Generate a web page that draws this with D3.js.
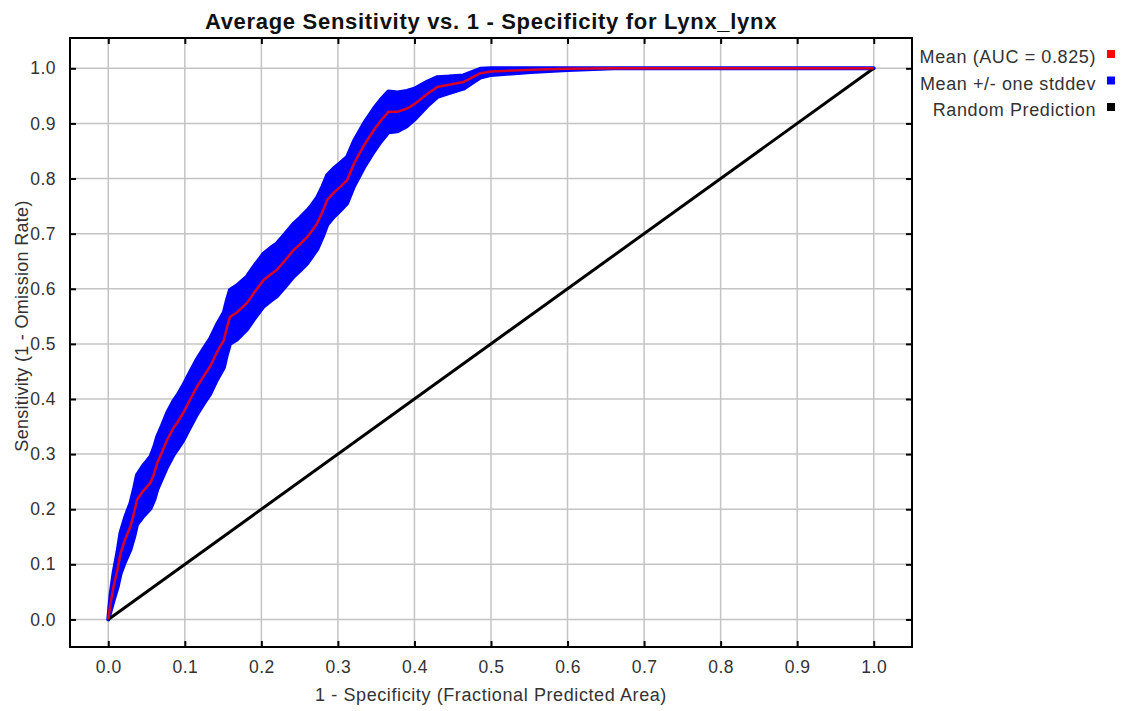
<!DOCTYPE html>
<html lang="en">
<head>
    <meta charset="UTF-8" />
    <title>Average Sensitivity vs. 1 - Specificity for Lynx_lynx</title>
    <script src="https://d3js.org/d3.v7.min.js"></script>
    <style>
        body { margin: 0; background: #fff; }
        text { font-family: "Liberation Sans", Arial, sans-serif; }
    </style>
</head>
<body>
    <svg id="chart" width="1128" height="711"></svg>
    <script>
        // Mean ROC curve (1 - specificity vs sensitivity)
        var fpr = [0, 0.003, 0.007, 0.012, 0.016, 0.022, 0.029, 0.034, 0.0375, 0.045,
                   0.055, 0.06, 0.064, 0.07, 0.077, 0.085, 0.09, 0.098, 0.107, 0.115,
                   0.124, 0.133, 0.142, 0.151, 0.155, 0.159, 0.168, 0.181, 0.19, 0.203,
                   0.212, 0.22, 0.23, 0.242, 0.25, 0.26, 0.266, 0.273, 0.28, 0.286,
                   0.295, 0.303, 0.312, 0.321, 0.334, 0.347, 0.356, 0.366, 0.378, 0.39,
                   0.4, 0.417, 0.43, 0.445, 0.464, 0.475, 0.486, 0.5, 0.552, 0.6,
                   0.66, 0.75, 0.85, 1.0];
        var tpr = [0, 0.03, 0.06, 0.09, 0.12, 0.145, 0.169, 0.195, 0.217, 0.232,
                   0.248, 0.265, 0.284, 0.303, 0.326, 0.347, 0.357, 0.375, 0.399, 0.42,
                   0.44, 0.459, 0.485, 0.507, 0.53, 0.549, 0.557, 0.574, 0.592, 0.616,
                   0.626, 0.634, 0.65, 0.67, 0.68, 0.694, 0.705, 0.719, 0.74, 0.761,
                   0.775, 0.785, 0.797, 0.827, 0.86, 0.888, 0.905, 0.921, 0.921, 0.927,
                   0.935, 0.954, 0.966, 0.97, 0.975, 0.983, 0.991, 0.994, 0.9975, 0.999,
                   1.0, 1.0, 1.0, 1.0];
        // one standard deviation around the mean
        var sd = [0, 0.015, 0.025, 0.032, 0.037, 0.04, 0.042, 0.044, 0.045, 0.046,
                  0.047, 0.048, 0.048, 0.048, 0.049, 0.049, 0.049, 0.05, 0.05, 0.05,
                  0.05, 0.05, 0.05, 0.05, 0.049, 0.049, 0.049, 0.048, 0.048, 0.048,
                  0.048, 0.048, 0.048, 0.048, 0.048, 0.048, 0.047, 0.047, 0.046, 0.045,
                  0.044, 0.043, 0.042, 0.041, 0.04, 0.039, 0.038, 0.037, 0.035, 0.032,
                  0.028, 0.022, 0.018, 0.015, 0.012, 0.01, 0.008, 0.006, 0.004, 0.002,
                  0, 0, 0, 0];
        var randomLine = [0, 1];
        var ticks = [0, 0.1, 0.2, 0.3, 0.4, 0.5, 0.6, 0.7, 0.8, 0.9, 1.0];
        var legendLabels = ["Mean (AUC = 0.825)", "Mean +/- one stddev", "Random Prediction"];
        var legendColors = ["#ff0000", "#0000ff", "#000000"];

        var margin = { left: 70, top: 38, right: 216, bottom: 64 };
        var W = 1128, H = 711;
        var x0 = margin.left, x1 = W - margin.right;
        var y0 = H - margin.bottom, y1 = margin.top;

        var svg = d3.select("#chart");

        var xScale = d3.scaleLinear().domain([-0.05, 1.05]).range([x0, x1]);
        var yScale = d3.scaleLinear().domain([-0.05, 1.055]).range([y0, y1]);

        var data = fpr.map(function (f, i) {
            return { x: f, y: tpr[i], lo: Math.max(0, tpr[i] - sd[i]), hi: Math.min(1, tpr[i] + sd[i]) };
        });

        // grid lines
        svg.append("g").selectAll("line.gx")
            .data(ticks).enter().append("line")
            .attr("x1", d => xScale(d)).attr("x2", d => xScale(d))
            .attr("y1", y1).attr("y2", y0)
            .attr("stroke", "#c4c4c4").attr("stroke-width", 1.5);
        svg.append("g").selectAll("line.gy")
            .data(ticks).enter().append("line")
            .attr("y1", d => yScale(d)).attr("y2", d => yScale(d))
            .attr("x1", x0).attr("x2", x1)
            .attr("stroke", "#c4c4c4").attr("stroke-width", 1.5);

        // std band
        var band = d3.area()
            .x(d => xScale(d.x))
            .y0(d => yScale(d.lo))
            .y1(d => yScale(d.hi));
        svg.append("path")
            .datum(data)
            .attr("d", band)
            .attr("fill", "#0000ff")
            .attr("stroke", "#0000ff")
            .attr("stroke-width", 4)
            .attr("stroke-linejoin", "round");

        // random prediction
        svg.append("line")
            .attr("x1", xScale(randomLine[0])).attr("y1", yScale(randomLine[0]))
            .attr("x2", xScale(randomLine[1])).attr("y2", yScale(randomLine[1]))
            .attr("stroke", "#000").attr("stroke-width", 3);

        // mean curve
        var line = d3.line().x(d => xScale(d.x)).y(d => yScale(d.y));
        svg.append("path")
            .datum(data)
            .attr("d", line)
            .attr("fill", "none")
            .attr("stroke", "#ff0000")
            .attr("stroke-opacity", 0.85)
            .attr("stroke-width", 2.5);

        // frame
        svg.append("rect")
            .attr("x", x0).attr("y", y1)
            .attr("width", x1 - x0).attr("height", y0 - y1)
            .attr("fill", "none").attr("stroke", "#000").attr("stroke-width", 2);

        // axes with inward ticks
        var xAxisB = d3.axisBottom(xScale).tickValues(ticks).tickFormat(d3.format(".1f")).tickSize(-6).tickPadding(14);
        var xAxisT = d3.axisTop(xScale).tickValues(ticks).tickFormat("").tickSize(-6);
        var yAxisL = d3.axisLeft(yScale).tickValues(ticks).tickFormat(d3.format(".1f")).tickSize(-6).tickPadding(14);
        var yAxisR = d3.axisRight(yScale).tickValues(ticks).tickFormat("").tickSize(-6);

        function style(g) {
            g.select(".domain").remove();
            g.selectAll(".tick line").attr("stroke", "#000").attr("stroke-width", 2);
            g.selectAll(".tick text").attr("fill", "#333")
                .style("font-size", "17.5px").style("letter-spacing", "0.5px");
        }
        svg.append("g").attr("transform", "translate(0," + y0 + ")").call(xAxisB).call(style);
        svg.append("g").attr("transform", "translate(0," + y1 + ")").call(xAxisT).call(style);
        svg.append("g").attr("transform", "translate(" + x0 + ",0)").call(yAxisL).call(style);
        svg.append("g").attr("transform", "translate(" + x1 + ",0)").call(yAxisR).call(style);

        // title and axis labels
        svg.append("text")
            .attr("x", (x0 + x1) / 2).attr("y", 29)
            .attr("text-anchor", "middle")
            .style("font-size", "22px").style("font-weight", "bold")
            .style("letter-spacing", "0.7px")
            .attr("fill", "#111")
            .text("Average Sensitivity vs. 1 - Specificity for Lynx_lynx");
        svg.append("text")
            .attr("x", (x0 + x1) / 2).attr("y", 701)
            .attr("text-anchor", "middle")
            .style("font-size", "18px").style("letter-spacing", "0.6px")
            .attr("fill", "#333")
            .text("1 - Specificity (Fractional Predicted Area)");
        svg.append("text")
            .attr("transform", "translate(28,326) rotate(-90)")
            .attr("text-anchor", "middle")
            .style("font-size", "18px").style("letter-spacing", "0.3px")
            .attr("fill", "#333")
            .text("Sensitivity (1 - Omission Rate)");

        // legend
        var legend = svg.append("g").selectAll("g")
            .data(legendLabels).enter().append("g")
            .attr("transform", (d, i) => "translate(0," + (56 + i * 26.5) + ")");
        legend.append("text")
            .attr("x", 1096).attr("y", 7)
            .attr("text-anchor", "end")
            .style("font-size", "18px").style("letter-spacing", "0.6px")
            .attr("fill", "#333")
            .text(d => d);
        legend.append("rect")
            .attr("x", 1107).attr("y", -6)
            .attr("width", 8).attr("height", 8)
            .attr("fill", (d, i) => legendColors[i]);
    </script>
</body>
</html>
